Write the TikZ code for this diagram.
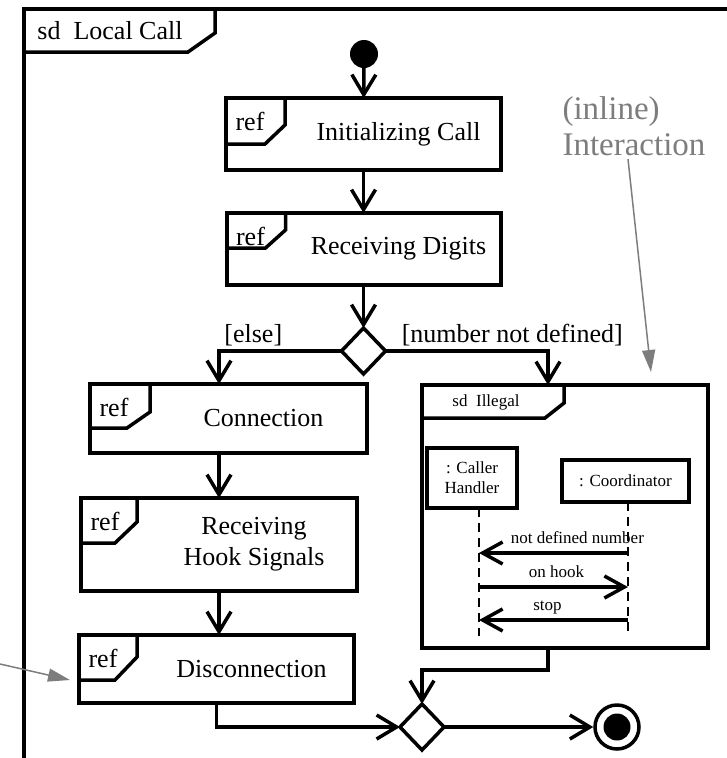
\documentclass[tikz,border=0pt]{standalone}
\usepackage{fontspec}
\setmainfont{Liberation Serif}
\usepackage{xcolor}
\definecolor{noteGrey}{RGB}{125,125,125}
\usepackage{tikz}
\usetikzlibrary{shapes.geometric, arrows.meta, positioning, calc}
\tikzstyle{refbox} = [rectangle, draw, line width=4pt, outer sep=0pt]
\tikzstyle{reftext} = [xshift=35pt, align=center]
\tikzstyle{sdframe} = [rectangle, draw, line width=4pt, outer sep=0pt]
\tikzstyle{decision} = [diamond, draw, line width=3.5pt, minimum width=44pt, minimum height=46pt, inner sep=0pt, outer sep=0pt]
\tikzstyle{arrow} = [line width=3.5pt, -{Straight Barb[length=20pt, width=24pt]}]
\tikzstyle{lifehead} = [rectangle, draw, outer sep=0pt, align=center, font=\fontsize{17}{20}\selectfont]
\tikzstyle{lifeline} = [line width=2pt, dash pattern=on 9pt off 6pt]
\tikzstyle{msg} = [line width=3.5pt, -{Straight Barb[length=20pt, width=22pt]}]
\tikzstyle{msglabel} = [above=8pt, inner sep=0pt, text depth=0pt, font=\fontsize{17}{20}\selectfont]
\tikzstyle{notearrow} = [noteGrey, line width=1.5pt, -{Triangle[length=22pt, width=13pt]}]
\newcommand{\frametab}[5]{%
  \draw[line width=3.5pt] (#1.north west) ++(#2,0) -- ++(0,#3) -- ++(-#4,#5) -- ++(#4-#2,0);}
\newcommand{\reftab}[5]{%
  \frametab{#1}{#2}{#3}{#4}{#5}
  \node (#1-ref) at ($(#1.north west)+(24,23)$) {ref};}

\begin{document}
\begin{tikzpicture}[x=1pt, y=-1pt, font=\fontsize{26}{31}\selectfont]
    \useasboundingbox (0,0) rectangle (726,758);
    \node[sdframe, minimum width=740pt, minimum height=800pt, anchor=north west] (localCall) at (24,9) {};
    \frametab{localCall}{191}{24}{27}{19}
    \node (localCall-title) at ($(localCall.north west)+(86,22)$) {sd\ \ Local Call};

    \node[circle, fill, minimum size=28pt, inner sep=0pt] (start) at (364,54) {};
    \node[refbox, minimum width=275pt, minimum height=72pt, label={[reftext]center:Initializing Call}] (init) at (363.5,134) {};
    \node[refbox, minimum width=274pt, minimum height=72pt, below=43pt of init, label={[reftext]center:Receiving Digits}] (digits) {};
    \node[decision, below=43pt of digits] (dec) {};
    \node[refbox, minimum width=277pt, minimum height=69pt, label={[reftext]center:Connection}] (conn) at (228.5,418.5) {};
    \node[refbox, minimum width=276pt, minimum height=93pt, below=45pt of conn, xshift=-9.5pt, label={[reftext]center:Receiving\\Hook Signals}] (hook) {};
    \node[refbox, minimum width=275pt, minimum height=68pt, below=44pt of hook, xshift=-2.5pt, label={[reftext]center:Disconnection}] (disc) {};
    \node[decision] (merge) at (422,727) {};
    \node[circle, draw, line width=3.5pt, minimum size=44pt, inner sep=0pt, path picture={\fill (path picture bounding box.center) circle (13.5pt);}] (final) at (617,727) {};

    \reftab{init}{59}{27}{20}{19}
    \reftab{digits}{59}{17}{20}{18}
    \reftab{conn}{60}{28}{23}{16}
    \reftab{hook}{56}{24}{22}{21}
    \reftab{disc}{58}{22}{22}{23}

    % inline interaction
    \node[sdframe, minimum width=286pt, minimum height=263pt] (illegal) at (565,516.5) {};
    \frametab{illegal}{142}{18}{19}{15}
    \node[font=\fontsize{17}{20}\selectfont] (illegal-title) at ($(illegal.north west)+(64,17)$) {sd\ \ Illegal};
    \node[lifehead, line width=4.5pt, minimum width=90pt, minimum height=60pt] (caller) at (472,478) {: Caller\\Handler};
    \node[lifehead, line width=3.5pt, minimum width=127pt, minimum height=42pt] (coord) at (625.5,481) {: Coordinator};
    \coordinate (callerEnd) at (479,636);
    \coordinate (coordEnd) at (628,636);
    \draw[lifeline] (caller.south -| callerEnd) -- (callerEnd);
    \draw[lifeline] (coord.south -| coordEnd) -- (coordEnd);
    \coordinate (m1) at (0,553);
    \coordinate (m2) at (0,587);
    \coordinate (m3) at (0,620);
    \draw[msg] (coordEnd |- m1) -- node[msglabel, pos=0.34] {not defined number} (callerEnd |- m1);
    \draw[msg] (callerEnd |- m2) -- node[msglabel, pos=0.52] {on hook} (coordEnd |- m2);
    \draw[msg] (coordEnd |- m3) -- node[msglabel, pos=0.54] {stop} (callerEnd |- m3);

    \draw[arrow] (start) -- (init);
    \draw[arrow] (init) -- (digits);
    \draw[arrow] (digits) -- (dec);
    \draw[arrow] (dec.west) -| node[pos=0.36, above] {[else]} (hook.north |- conn.north);
    \draw[arrow] (dec.east) -| node[pos=0.39, above] {[number not defined]} ([xshift=-17pt]illegal.north);
    \draw[arrow] (conn.south -| hook.north) -- (hook.north);
    \draw[arrow] (hook.south) -- (hook.south |- disc.north);
    \draw[arrow] (disc.south) |- (merge.west);
    \draw[arrow] ([xshift=-17pt]illegal.south) -- ++(0,22) -| (merge.north);
    \draw[arrow] (merge) -- (final);

    % notes
    \node[text=noteGrey, align=left, font=\fontsize{33}{36}\selectfont] (inline) at (634,126) {(inline)\\Interaction};
    \coordinate (inlineTip) at (651,372);
    \draw[notearrow] ([xshift=-6pt]inline.south) -- (inlineTip);
    \coordinate (discNote) at (0,664);
    \draw[notearrow] (discNote) -- ([shift={(-9,11)}]disc.west);
\end{tikzpicture}
\end{document}
